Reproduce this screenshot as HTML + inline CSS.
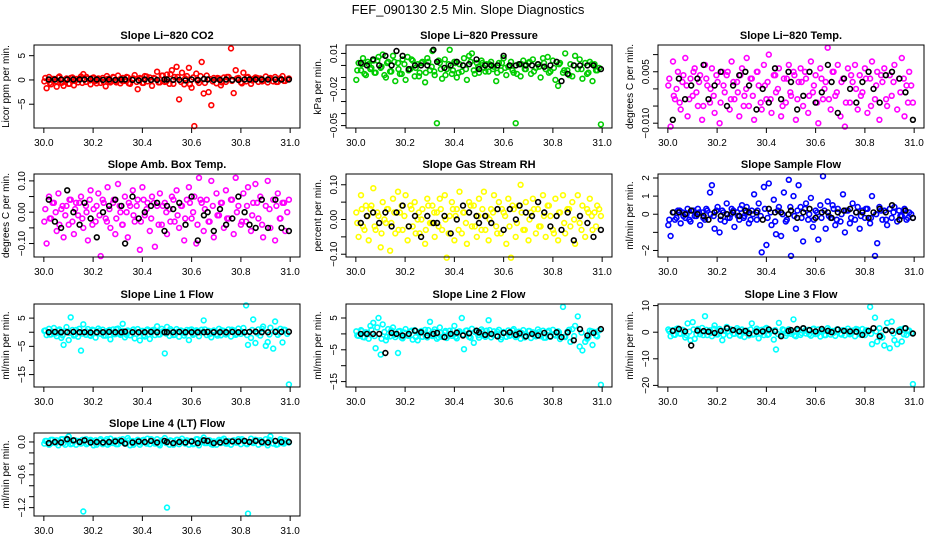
<!DOCTYPE html>
<html><head><meta charset="utf-8">
<style>
html,body{margin:0;padding:0;background:#fff;}
svg{display:block;font-family:"Liberation Sans",sans-serif;}
</style></head>
<body>
<svg id="fig" width="936" height="540" viewBox="0 0 936 540">
<rect x="0" y="0" width="936" height="540" fill="#fff"/>
<text x="468" y="14" text-anchor="middle" font-size="13">FEF_090130  2.5 Min. Slope Diagnostics</text>
</svg>
<script>
// shared x (time) for colored series
const timeX = [30.002,30.011,30.021,30.029,30.041,30.052,30.059,30.071,30.08,30.092,
30.101,30.109,30.122,30.131,30.139,30.151,30.16,30.171,30.179,30.19,
30.202,30.21,30.221,30.231,30.239,30.251,30.259,30.27,30.281,30.29,
30.301,30.311,30.32,30.329,30.341,30.35,30.361,30.369,30.381,30.39,
30.4,30.41,30.421,30.43,30.439,30.451,30.46,30.471,30.479,30.491,
30.5,30.51,30.52,30.531,30.539,30.549,30.561,30.57,30.581,30.589,
30.6,30.611,30.619,30.63,30.641,30.649,30.661,30.669,30.68,30.69,
30.701,30.711,30.719,30.731,30.739,30.75,30.76,30.771,30.779,30.79,
30.8,30.81,30.821,30.829,30.841,30.85,30.859,30.871,30.879,30.89,
30.901,30.909,30.92,30.931,30.939,30.95,30.961,30.969,30.98,30.995];
// second batch of colored times (dense core)
const timeX2 = [30.006,30.024,30.035,30.048,30.063,30.076,30.087,30.104,30.116,30.127,30.144,30.156,30.173,30.186,30.197,30.214,30.226,30.243,30.256,30.266,30.284,30.294,30.308,30.318,30.336,30.345,30.364,30.377,30.394,30.405,30.417,30.436,30.447,30.466,30.483,30.497,30.514,30.526,30.543,30.557,30.574,30.593,30.606,30.624,30.636,30.654,30.673,30.686,30.705,30.723,30.744,30.764,30.784,30.804,30.825,30.846,30.866,30.886,30.916,30.944,30.958,30.975,30.988];
// shared x for black series
const blackX = [30.02,30.045,30.07,30.095,30.12,30.145,30.165,30.19,30.215,30.24,30.265,30.29,30.315,30.33,30.36,30.385,30.41,30.435,30.46,30.49,30.5,30.525,30.55,30.575,30.6,30.625,30.65,30.665,30.69,30.715,30.74,30.765,30.79,30.815,30.835,30.86,30.885,30.91,30.94,30.965,30.995];
const xTicks = [30.0,30.2,30.4,30.6,30.8,31.0];
const xTickLabels = ["30.0","30.2","30.4","30.6","30.8","31.0"];

const co2Y = [-0.3,-1.7,0.6,-0.9,0.2,-1.4,0.5,-0.6,-1.2,0.3,-0.8,0.4,-1.1,0.2,-0.5,0.7,1.2,-0.4,0.3,-0.9,0.5,-0.2,0.3,-0.6,0.4,-1.3,0.2,-0.5,0.6,-0.3,0.9,-0.7,0.4,-0.2,0.5,-0.8,0.3,1.0,-1.9,0.4,-0.6,0.8,-0.3,0.5,-1.2,0.3,1.7,-0.5,0.9,-0.4,1.1,-0.8,2.0,0.6,2.7,-4.0,1.5,-0.9,0.8,2.5,-1.6,-9.5,1.3,-0.6,3.7,-2.8,0.9,-2.5,-5.2,0.4,-0.7,0.3,-1.1,0.5,-0.4,0.6,6.5,-2.7,2.0,0.4,-0.5,1.5,-0.3,0.6,-0.8,0.2,0.5,-0.4,0.3,-0.2,0.7,-0.5,0.4,-0.3,0.6,-0.4,0.3,0.8,-0.2,0.3];
const co2Y2 = [0.4,-0.6,0.2,-0.3,0.7,-0.5,0.1,-0.8,0.5,-0.2,0.3,-0.6,0.6,-0.1,0.4,-0.7,0.2,-0.4,0.8,-0.3,0.5,-0.5,0.1,-0.2,0.6,-0.7,0.3,-0.4,0.2,-0.6,0.7,-0.1,0.4,-0.5,0.9,-0.3,1.2,-0.8,0.6,-0.4,0.3,-0.9,0.5,-0.2,0.8,-0.6,0.2,-0.3,0.4,-0.5,0.6,-0.2,0.3,-0.7,0.5,-0.1,0.4,-0.3,0.2,-0.4,0.3,-0.2,0.1];
const co2Black = [0.1,0.1,0.1,0.1,0.1,0.1,0.1,0.2,0.1,0,0.1,0,0.1,0.1,0,-0.1,0.1,0,0,0.1,0.1,0,0,-0.1,0.1,0,0.2,0.1,0,0,0.1,0,0,0.1,0.1,0.1,0.1,0.1,0.1,0.1,0.1];
const presY = [-0.012,0.002,-0.004,0.006,-0.008,0.001,-0.003,0.004,-0.006,0.007,-0.002,0.009,-0.010,0.003,-0.005,0.008,-0.013,0.002,-0.007,0.005,-0.012,0.007,-0.003,0.004,-0.009,0.001,-0.006,0.003,-0.014,0.006,-0.004,0.012,-0.008,-0.048,0.002,-0.011,0.005,-0.003,0.013,-0.007,0.003,-0.010,0.001,-0.005,0.006,-0.012,0.008,0.010,-0.004,0.002,-0.006,0.004,-0.002,0.001,-0.005,0.003,-0.001,-0.013,0.002,-0.004,0.006,-0.008,-0.001,0.003,-0.006,-0.048,0.001,-0.009,0.004,-0.003,0.002,-0.007,0.005,-0.002,0.001,-0.010,0.006,-0.003,0.007,-0.005,0.004,-0.012,-0.017,0.002,-0.006,0.010,-0.004,0.001,-0.009,0.008,-0.003,0.005,-0.011,0.002,-0.007,0.003,-0.013,0.001,-0.004,-0.049];
const presY2 = [-0.004,0.001,-0.007,0.003,-0.002,-0.006,0.004,-0.001,-0.008,0.002,-0.005,0.003,-0.003,-0.007,0.001,-0.004,0.005,-0.002,-0.009,0.002,-0.006,0.003,-0.001,-0.005,0.004,-0.003,-0.008,0.001,-0.004,0.002,-0.006,0.000,-0.003,0.003,-0.007,-0.001,0.002,-0.005,0.001,-0.003,-0.006,0.002,-0.002,0.000,-0.004,-0.007,0.001,-0.003,0.003,-0.005,-0.001,0.002,-0.006,-0.002,0.001,-0.004,-0.008,0.000,-0.003,-0.006,0.001,-0.004,-0.002];
const presBlack = [0.002,0,0.005,0,0.008,0,0.012,0.008,-0.003,0,0,0,0.013,0.003,-0.002,0,0.003,0,0.001,0.005,-0.003,0,0,0,0.008,0,0,0.001,0,0,0.001,-0.001,0,0.003,-0.013,-0.007,0,0,0,0,-0.003];
const tempY = [0.001,-0.011,0.008,-0.003,0.005,-0.006,0.002,0.009,-0.008,0.003,-0.002,0.006,-0.005,0.004,-0.009,0.007,0.001,-0.004,0.006,-0.007,0.002,-0.010,0.005,-0.001,0.004,-0.006,0.008,-0.003,0.002,-0.008,0.006,-0.002,0.009,-0.005,0.003,-0.009,0.005,0.001,-0.006,0.007,-0.003,0.010,-0.007,0.004,-0.001,0.006,-0.008,0.003,-0.004,0.007,-0.002,0.005,-0.009,0.002,0.006,-0.005,0.003,-0.007,0.008,-0.001,0.004,-0.010,0.006,-0.003,0.002,0.012,-0.006,0.005,-0.002,0.007,-0.008,0.003,-0.011,0.006,-0.004,0.002,0.007,-0.006,0.004,-0.001,0.006,-0.007,0.003,0.008,-0.003,0.005,-0.009,0.002,0.006,-0.005,0.004,-0.002,0.007,-0.006,0.003,0.009,-0.008,0.001,0.005,-0.004];
const tempY2 = [0.003,-0.002,0.000,-0.004,0.004,0.001,-0.003,0.005,-0.001,0.002,-0.005,0.003,0.000,-0.002,0.004,-0.004,0.001,0.005,-0.003,0.002,-0.001,0.004,-0.005,0.000,0.003,-0.002,0.005,-0.004,0.001,0.002,-0.003,0.004,0.000,-0.005,0.003,-0.001,0.004,-0.003,0.002,0.005,-0.002,0.001,-0.004,0.003,0.000,-0.003,0.005,-0.001,0.002,-0.004,0.004,0.000,-0.002,0.003,-0.005,0.001,0.004,-0.003,0.002,-0.001,0.003,-0.004,0.001];
const tempBlack = [-0.009,0.003,-0.003,0.001,0.003,0.007,-0.003,0.001,0.005,-0.005,0.001,0.004,0.005,0.001,-0.006,0,-0.004,0.006,-0.003,0.005,0.002,-0.006,-0.002,0.005,-0.004,-0.001,0.007,0.002,-0.007,0.003,0,-0.004,0.002,0.005,0,-0.004,0.004,0.005,0.003,-0.001,-0.009];
const ambY = [-0.03,-0.1,0.05,-0.02,0.03,-0.06,0.06,0.01,-0.08,0.02,-0.04,0.04,-0.07,0.03,-0.01,0.05,-0.05,0.02,-0.09,0.07,0.01,-0.03,0.06,-0.14,0.04,-0.02,0.08,-0.05,0.03,-0.07,0.09,0.0,-0.04,0.05,-0.08,0.02,0.07,-0.03,0.04,-0.12,0.08,-0.01,0.03,-0.06,0.05,-0.11,0.02,0.06,-0.04,0.03,-0.07,0.01,0.05,-0.03,0.07,-0.05,0.02,-0.09,0.04,0.08,-0.02,0.05,-0.1,0.11,0.03,-0.06,0.04,-0.03,0.1,-0.08,0.06,-0.01,0.03,-0.05,0.07,-0.02,0.04,-0.07,0.11,0.02,-0.04,0.06,-0.03,0.08,-0.06,0.03,0.09,-0.02,0.05,-0.08,0.02,0.1,-0.05,0.04,-0.09,0.06,-0.02,0.03,-0.06,0.04];
const ambY2 = [0.01,-0.02,0.03,0.00,-0.04,0.02,-0.01,0.04,-0.03,0.01,0.03,-0.02,0.00,0.04,-0.04,0.02,-0.01,0.03,-0.03,0.01,0.04,-0.02,0.02,-0.04,0.00,0.03,-0.01,0.02,-0.03,0.04,0.01,-0.02,0.03,-0.04,0.02,0.00,-0.03,0.04,-0.01,0.02,-0.02,0.03,0.00,-0.04,0.04,0.01,-0.03,0.02,-0.01,0.03,-0.02,0.04,0.00,-0.03,0.02,-0.01,0.03,-0.04,0.01,0.02,-0.02,0.03,0.00];
const ambBlack = [0.04,-0.03,-0.05,0.07,0,-0.04,0.03,-0.02,-0.08,0,0.02,0.04,0.02,-0.1,0.05,-0.02,0,0.02,0.03,-0.06,0.02,0.01,0.03,-0.04,0.05,-0.09,-0.01,0,-0.06,0.01,-0.04,-0.02,0.05,0,-0.04,-0.05,0.04,-0.05,0.04,-0.05,-0.06];
const rhY = [0.02,-0.05,0.07,-0.02,0.04,-0.06,0.03,0.09,-0.03,0.01,-0.08,0.05,-0.01,0.03,-0.09,0.06,-0.04,0.08,0.02,-0.03,0.07,-0.06,0.04,-0.02,0.05,0.0,-0.04,0.03,-0.07,0.06,-0.01,0.04,-0.05,0.02,0.06,-0.03,0.07,-0.11,0.01,0.05,-0.06,0.03,0.08,-0.04,0.02,-0.07,0.05,-0.02,0.04,-0.05,0.06,-0.03,0.08,0.01,-0.06,0.03,0.07,-0.02,0.05,-0.04,0.02,-0.07,0.06,-0.11,0.03,-0.05,0.04,0.1,-0.03,0.05,-0.06,0.02,0.06,-0.04,0.03,-0.02,0.07,-0.05,0.04,0.01,-0.03,0.06,-0.06,0.02,0.07,-0.04,0.03,-0.02,0.05,-0.07,0.07,-0.01,0.04,-0.05,0.03,0.06,-0.03,0.02,0.04,0.01];
const rhY2 = [-0.01,0.03,-0.03,0.01,0.04,-0.02,0.02,-0.04,0.00,0.03,-0.01,0.02,-0.03,0.04,0.01,-0.02,0.03,-0.04,0.02,0.00,-0.03,0.04,-0.01,0.02,-0.02,0.03,0.00,-0.04,0.03,0.01,-0.03,0.02,-0.01,0.04,-0.02,0.01,0.03,-0.03,0.00,0.02,-0.04,0.03,0.01,-0.02,0.04,-0.01,0.02,-0.03,0.00,0.03,-0.02,0.01,0.04,-0.04,0.02,-0.01,0.03,0.00,-0.03,0.02,0.01,-0.02,0.03];
const rhBlack = [-0.01,0.01,0.02,-0.01,0.02,-0.02,0.02,0.04,-0.02,0.01,-0.05,0.01,-0.01,-0.01,0.01,-0.04,0,0.04,0.02,0.01,-0.01,0.01,-0.01,0.03,-0.03,0.03,0,0.04,0.02,0.01,0.05,0.02,-0.02,0.01,-0.03,0.02,-0.06,0.01,-0.01,-0.05,-0.03];
const flowY = [-0.6,-1.2,0.1,-0.3,0.2,-0.5,0.1,-0.2,0.3,-0.4,0.2,-0.1,0.3,-0.6,0.1,-0.3,0.2,1.2,1.6,-0.8,0.4,-1.0,0.2,-0.4,0.6,-0.2,0.3,-0.7,0.1,-0.3,0.5,-0.1,0.4,-0.5,0.2,1.1,-0.3,0.6,-2.1,1.5,-1.7,1.7,-0.6,0.8,-1.1,0.4,-1.2,1.2,-0.4,1.9,-2.3,1.0,-0.8,1.6,0.4,-1.5,0.6,-0.3,0.9,-0.7,0.2,-1.4,0.5,2.1,-0.8,0.7,-0.2,0.5,-0.6,0.3,-0.4,1.1,-1.0,0.2,-0.5,0.6,-0.3,0.4,-0.8,0.2,-0.2,0.3,-0.5,1.0,-2.3,-1.6,0.4,-0.3,0.2,-0.6,0.3,-0.2,0.4,-0.4,0.2,-0.1,0.3,-0.3,0.1,-0.2];
const flowY2 = [-0.3,0.1,-0.2,0.2,-0.1,0.0,-0.3,0.2,-0.1,0.1,-0.2,0.3,0.0,-0.1,0.2,-0.3,0.1,-0.2,0.0,0.2,-0.1,0.3,-0.2,0.1,-0.3,0.0,0.2,-0.1,0.3,-0.2,0.1,-0.4,0.2,0.0,-0.3,0.4,-0.1,0.2,-0.2,0.3,0.0,-0.3,0.1,-0.2,0.2,-0.1,0.3,-0.3,0.0,0.2,-0.2,0.1,-0.1,0.3,-0.2,0.0,0.2,-0.3,0.1,-0.1,0.2,-0.2,0.0];
const flowBlack = [0.1,0.1,0,0.2,0,-0.1,-0.3,0.1,-0.1,0,0.1,-0.1,0.2,0.1,0.1,-0.3,0.3,0.1,0.1,0,0.2,-0.2,0.1,0.3,-0.2,0.1,0.1,-0.2,0.1,0.2,0.3,0.1,0.1,-0.2,0.1,0.3,0.1,0.5,-0.3,0.2,-0.2];
const line1Y = [0.5,-1.0,1.2,-0.8,1.5,-1.4,0.6,-2.0,-4.5,1.8,-2.8,5.3,-1.2,0.8,-1.6,-6.5,2.8,-0.9,1.1,-1.3,0.7,-1.9,1.3,-0.6,0.9,-1.2,0.4,-2.5,1.0,-0.7,1.3,-0.9,3.0,-1.8,0.6,-1.1,0.8,-2.2,1.1,-2.9,0.5,-1.5,1.0,-2.4,0.7,-1.0,2.1,-0.8,1.2,-7.5,1.9,-1.3,0.6,-0.9,1.1,-1.6,0.4,-1.2,0.8,-2.8,1.0,-0.5,0.7,-1.4,0.9,4.2,-1.0,0.5,-1.8,0.6,-0.7,1.2,-1.1,0.5,-0.8,1.0,-1.5,0.6,-0.9,1.3,-0.6,1.5,9.5,-4.5,-2.0,4.5,-3.8,1.0,-1.2,2.0,-4.8,-3.5,1.6,-5.8,3.8,-0.9,1.2,-3.6,0.8,-18.5];
const line1Y2 = [0.6,-0.8,0.2,-0.4,1.0,-1.1,0.4,-0.2,0.8,-0.9,1.2,-0.5,0.3,-1.0,0.9,-0.3,0.6,-1.2,0.1,0.8,-0.7,1.1,-0.4,0.5,-0.9,0.2,1.0,-0.6,0.4,-1.1,0.7,-0.2,0.9,-0.8,0.3,-0.5,1.1,-1.0,0.2,0.6,-0.4,0.8,-0.9,0.5,-0.1,1.0,-0.7,0.3,-1.2,0.7,-0.3,0.9,-0.6,0.2,-1.0,0.8,-0.4,1.2,-0.8,0.5,-0.2,0.9,-0.6];
const line1Black = [0,0.1,0,0,0.1,0,0,-0.1,0,0,0.1,0,0,0.2,0,0,0,0.1,0,0,0,0,0.1,0,0,0,0,0.1,0,0,0,0.1,0,0,0.1,0.2,0,0,0.1,0.1,0.2];
const line2Y = [0.8,-0.6,1.2,-1.0,0.5,-1.5,2.5,3.5,-4.5,5.0,-6.5,3.0,-2.0,1.5,-0.8,2.0,-1.0,-6.0,0.9,-1.4,1.5,-0.5,0.7,-1.8,1.2,-2.0,0.6,-0.9,1.3,-1.1,3.8,-0.7,1.4,-1.5,2.0,-0.9,0.5,-1.3,1.0,-0.6,2.5,-1.4,0.8,5.0,-4.8,1.1,-0.9,1.6,-2.8,0.7,-1.2,1.4,-0.6,1.0,4.3,-1.1,0.8,-0.5,1.3,-1.7,0.6,-0.9,1.1,-0.4,1.5,-1.0,0.7,-1.5,1.2,-0.6,0.9,-1.3,0.5,-0.8,1.4,-0.7,1.0,-1.2,0.6,-0.9,1.3,-0.5,0.8,-1.6,8.5,-1.0,0.7,-2.5,1.5,2.5,5.5,-4.0,-5.2,-2.5,-1.5,1.0,-3.5,0.6,-0.8,-16.0];
const line2Y2 = [-0.5,0.9,-1.1,0.3,1.3,-0.7,2.0,-1.5,0.6,-0.9,1.1,-0.3,0.8,-1.2,0.4,-0.6,1.0,-1.0,0.2,0.9,-0.8,1.2,-0.4,0.7,-1.1,0.3,0.9,-0.5,1.1,-0.9,0.5,-0.2,1.0,-1.2,0.6,-0.4,0.8,-0.9,1.2,-0.3,0.7,-1.0,0.4,-0.6,1.1,-0.8,0.3,-1.1,0.9,-0.4,0.6,-1.2,1.0,-0.2,0.5,-0.9,1.3,-0.7,0.4,-1.0,0.8,-0.5,1.1];
const line2Black = [0,0,0,0,-6,0.3,0,-0.5,0,1,0.5,-0.5,0,0.3,-1,0,0.4,-0.5,0.2,1,0.5,-0.3,0,-0.8,0.3,0.5,-0.3,0.2,-0.8,0,-0.5,0.3,-0.8,0.5,-1,0.5,-2,1.5,-0.5,0.3,1.5];
const line3Y = [1.0,-1.5,0.8,-1.0,1.4,-0.6,0.9,-2.0,3.3,-3.0,3.8,-2.5,1.2,-0.8,1.6,6.0,-1.1,0.7,-1.5,2.5,-0.9,1.2,-3.0,0.5,2.0,-1.3,0.8,-0.6,1.5,-1.0,1.0,-1.8,0.6,-1.2,3.3,-0.7,1.3,-2.3,0.9,-1.1,1.6,-0.8,0.5,-2.8,-6.5,3.5,-1.0,0.8,-1.4,1.1,-0.6,4.8,-1.5,0.7,-1.0,1.4,-0.5,0.9,-1.3,1.2,-0.7,1.0,-1.6,0.6,-1.1,1.5,-0.9,0.5,-1.4,1.1,-0.6,0.8,-1.2,1.3,-0.8,0.6,-1.5,1.0,-0.7,1.2,-1.1,0.7,9.5,-4.5,5.5,-3.5,1.5,-2.0,-5.0,3.5,-6.0,4.0,-3.0,-4.5,0.8,-3.5,1.5,-1.0,0.6,-19.5];
const line3Y2 = [0.4,-0.9,1.2,-0.5,0.8,-1.2,0.2,1.0,-0.7,0.5,-1.1,0.9,-0.3,1.3,-0.8,0.6,-1.0,0.3,1.1,-0.6,0.7,-1.3,0.4,-0.2,1.0,-0.9,0.6,-0.4,1.2,-1.0,0.3,0.8,-0.7,1.1,-0.5,0.2,-1.2,0.9,-0.3,0.6,-0.8,1.3,-0.6,0.4,-1.1,0.8,-0.2,1.0,-0.9,0.5,-0.4,1.2,-1.0,0.7,-0.6,0.3,-1.2,0.9,-0.5,1.1,-0.8,0.4,-0.3];
const line3Black = [0.5,1.2,0.3,-5,0.6,0.4,0.2,-0.3,0.5,1.5,0.8,0.3,0.5,-0.5,0.2,0.3,1,0.3,-1.5,0.5,0.8,1.2,1.5,0.8,0.3,1.2,0.5,0,1,0.5,0.3,0.2,-1,0.5,1.5,-1.5,0.8,0.5,0.2,1.5,-0.5];
const line4Y = [-0.03,0.02,-0.05,0.04,-0.01,0.03,-0.06,0.05,-0.02,0.06,0.1,-0.04,0.03,-0.05,0.02,-0.03,-1.27,0.05,-0.02,0.04,-0.06,0.03,-0.01,0.05,-0.04,0.02,-0.05,0.06,-0.02,0.03,-0.04,0.01,0.05,-0.03,0.07,-0.06,0.02,-0.02,0.04,-0.05,0.03,-0.01,0.06,-0.04,0.02,-0.03,0.05,-0.06,0.03,0.07,-1.2,-0.05,0.02,-0.02,0.04,-0.04,0.06,-0.01,0.03,-0.05,0.02,-0.03,0.05,-0.06,0.04,0.08,-0.02,0.03,-0.04,0.01,-0.05,0.04,-0.02,0.06,-0.03,0.02,-0.05,0.03,-0.01,0.05,-0.04,0.02,-0.03,-1.31,0.06,-0.02,0.04,-0.05,0.03,-0.01,0.05,-0.06,0.1,-0.03,0.02,-0.04,0.05,-0.02,0.03,-0.01];
const line4Y2 = [0.02,-0.04,0.04,-0.02,0.00,0.05,-0.05,0.01,-0.03,0.03,-0.01,0.04,-0.04,0.02,0.00,-0.05,0.03,-0.02,0.05,-0.03,0.01,-0.04,0.04,0.00,-0.02,0.03,-0.05,0.02,-0.01,0.04,-0.03,0.05,0.00,-0.04,0.02,-0.02,0.03,-0.05,0.04,0.01,-0.03,0.02,-0.04,0.05,0.00,-0.02,0.03,-0.05,0.01,0.04,-0.03,0.02,-0.01,0.05,-0.04,0.00,0.03,-0.02,0.04,-0.05,0.01,-0.03,0.02];
const line4Black = [-0.02,0,-0.01,0.05,0.03,0,0.03,-0.01,0,-0.01,0,0.01,0.02,-0.03,-0.01,0.01,0,0.02,-0.01,0.02,0,-0.02,0,-0.01,0.01,-0.02,0.03,0.02,-0.02,-0.01,0.01,0.01,0.01,0.02,0,0.02,0,-0.01,0.02,0,0];

const panels = [
 {id:"co2",title:"Slope Li\u2212820 CO2",ylab:"Licor ppm per min.",col:"#ff0000",c:0,r:0,ymin:-9.9,ymax:7.2,ticks:[-5,0,5],labels:["\u22125","0","5"],ys:co2Y,ys2:co2Y2,bys:co2Black},
 {id:"pressure",title:"Slope Li\u2212820 Pressure",ylab:"kPa per min.",col:"#00cd00",c:1,r:0,ymin:-0.052,ymax:0.017,ticks:[-0.05,-0.04,-0.03,-0.02,-0.01,0,0.01],labels:["\u22120.05","","","\u22120.02","","","0.01"],ys:presY,ys2:presY2,bys:presBlack},
 {id:"temp",title:"Slope Li\u2212820 Temp.",ylab:"degrees C per min.",col:"#ff00ff",c:2,r:0,ymin:-0.0114,ymax:0.0128,ticks:[-0.01,-0.005,0,0.005,0.01],labels:["\u22120.010","","","0.005",""],ys:tempY,ys2:tempY2,bys:tempBlack},
 {id:"amb-box-temp",title:"Slope Amb. Box Temp.",ylab:"degrees C per min.",col:"#ff00ff",c:0,r:1,ymin:-0.143,ymax:0.122,ticks:[-0.1,-0.05,0,0.05,0.1],labels:["\u22120.10","","0.00","","0.10"],ys:ambY,ys2:ambY2,bys:ambBlack},
 {id:"gas-rh",title:"Slope Gas Stream RH",ylab:"percent per min.",col:"#ffff00",c:1,r:1,ymin:-0.108,ymax:0.131,ticks:[-0.1,-0.05,0,0.05,0.1],labels:["\u22120.10","","0.00","","0.10"],ys:rhY,ys2:rhY2,bys:rhBlack},
 {id:"sample-flow",title:"Slope Sample Flow",ylab:"ml/min per min.",col:"#0000ff",c:2,r:1,ymin:-2.36,ymax:2.22,ticks:[-2,-1,0,1,2],labels:["\u22122","","0","1","2"],ys:flowY,ys2:flowY2,bys:flowBlack},
 {id:"line1-flow",title:"Slope Line 1 Flow",ylab:"ml/min per min.",col:"#00ffff",c:0,r:2,ymin:-19.4,ymax:10,ticks:[-15,-10,-5,0,5],labels:["\u221215","","\u22125","","5"],ys:line1Y,ys2:line1Y2,bys:line1Black},
 {id:"line2-flow",title:"Slope Line 2 Flow",ylab:"ml/min per min.",col:"#00ffff",c:1,r:2,ymin:-16.7,ymax:9.4,ticks:[-15,-10,-5,0,5],labels:["\u221215","","\u22125","","5"],ys:line2Y,ys2:line2Y2,bys:line2Black},
 {id:"line3-flow",title:"Slope Line 3 Flow",ylab:"ml/min per min.",col:"#00ffff",c:2,r:2,ymin:-20.6,ymax:10.6,ticks:[-20,-10,0,10],labels:["\u221220","\u221210","0","10"],ys:line3Y,ys2:line3Y2,bys:line3Black},
 {id:"line4-flow",title:"Slope Line 4 (LT) Flow",ylab:"ml/min per min.",col:"#00ffff",c:0,r:3,ymin:-1.353,ymax:0.164,ticks:[-1.2,-1,-0.8,-0.6,-0.4,-0.2,0],labels:["\u22121.2","","","\u22120.6","","","0.0"],ys:line4Y,ys2:line4Y2,bys:line4Black}
];

const NS = "http://www.w3.org/2000/svg";
const svg = document.getElementById("fig");
const colX = [34,346,658], rowY = [45,174,304,433], W = 266, H = 83;
const XMIN = 29.96, XMAX = 31.04;
function mk(tag, attrs, parent){ const e=document.createElementNS(NS,tag); for(const k in attrs) e.setAttribute(k,attrs[k]); parent.appendChild(e); return e; }

panels.forEach(p=>{
  const x0=colX[p.c], y0=rowY[p.r];
  const sx = v => x0 + (v-XMIN)/(XMAX-XMIN)*W;
  const sy = v => y0 + H - (v-p.ymin)/(p.ymax-p.ymin)*H;
  const g = mk("g",{},svg);
  
  
  const t = mk("text",{x:x0+W/2,y:y0-6,"text-anchor":"middle","font-size":"11","font-weight":"bold"},g);
  t.textContent = p.title;
  
  
  const yl = mk("text",{x:0,y:0,"text-anchor":"middle","font-size":"10",transform:`translate(${x0-25},${y0+H/2}) rotate(-90)`},g);
  yl.textContent = p.ylab;
  
  
  // colored points
  const n = Math.min(timeX.length, p.ys.length);
  for(let i=0;i<n;i++){
    const c = mk("circle",{cx:sx(timeX[i]).toFixed(1),cy:sy(p.ys[i]).toFixed(1),r:"2.4",fill:"none",stroke:p.col,"stroke-width":"1.6"},g);
    
    
  }
  const n2 = Math.min(timeX2.length, p.ys2.length);
  for(let i=0;i<n2;i++){
    const c = mk("circle",{cx:sx(timeX2[i]).toFixed(1),cy:sy(p.ys2[i]).toFixed(1),r:"2.4",fill:"none",stroke:p.col,"stroke-width":"1.6"},g);
    
    
  }
  const m = Math.min(blackX.length, p.bys.length);
  for(let i=0;i<m;i++){
    const c = mk("circle",{cx:sx(blackX[i]).toFixed(1),cy:sy(p.bys[i]).toFixed(1),r:"2.4",fill:"none",stroke:"#000","stroke-width":"1.6"},g);
    
    
  }
  const b = mk("rect",{x:x0,y:y0,width:W,height:H,fill:"none",stroke:"#000","stroke-width":"1"},g);
  
  
  p.ticks.forEach((tv,i)=>{
    const yy = sy(tv);
    mk("line",{x1:x0-5,x2:x0,y1:yy,y2:yy,stroke:"#000","stroke-width":"1"},g);
    if(p.labels[i]){
      const lt = mk("text",{x:0,y:0,"text-anchor":"middle","font-size":"10",transform:`translate(${x0-9},${yy}) rotate(-90)`},g);
      lt.textContent = p.labels[i];
      
      
    }
  });
  xTicks.forEach((tv,i)=>{
    const xx = sx(tv);
    mk("line",{x1:xx,x2:xx,y1:y0+H,y2:y0+H+5,stroke:"#000","stroke-width":"1"},g);
    const lt = mk("text",{x:xx,y:y0+H+18,"text-anchor":"middle","font-size":"10"},g);
    lt.textContent = xTickLabels[i];
    
    
  });
});
</script>
</body></html>
